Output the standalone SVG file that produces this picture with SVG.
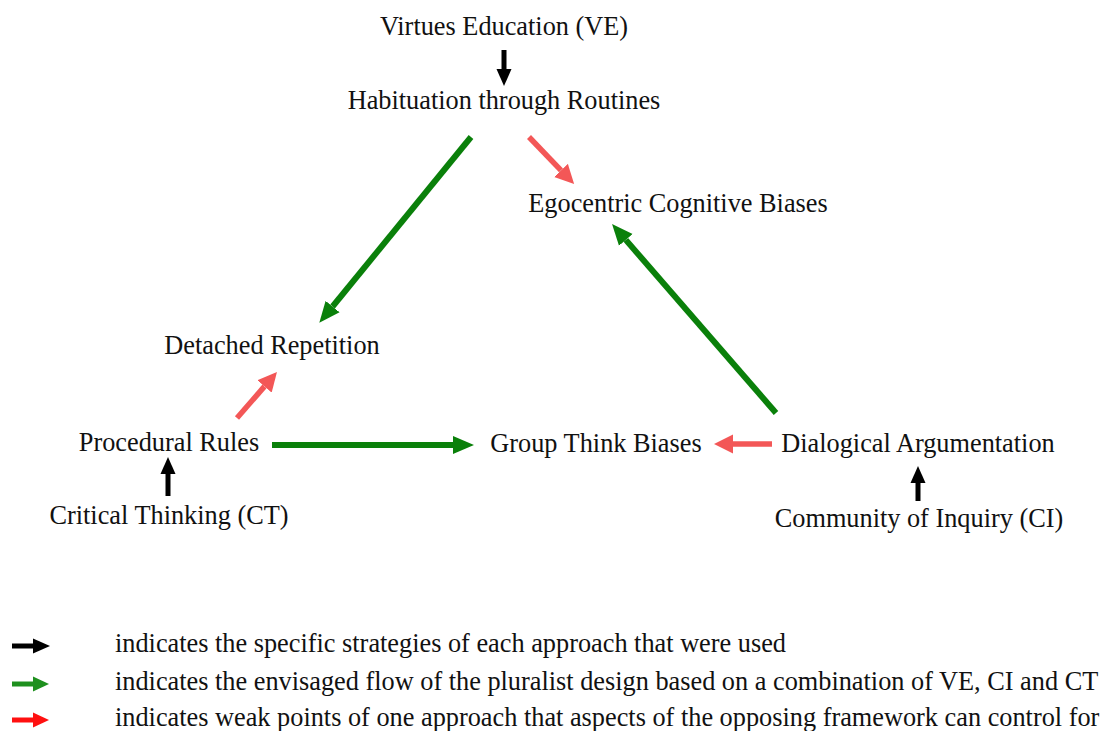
<svg xmlns="http://www.w3.org/2000/svg" width="1106" height="731" viewBox="0 0 1106 731">
<style>
text{font-family:"Liberation Serif","Times New Roman",serif;font-size:26.3px;fill:#111}
.n text{text-anchor:middle}
.g{stroke:#0a800a;stroke-width:6;fill:none}
.r{stroke:#f35757;stroke-width:5.5;fill:none}
.k{stroke:#000;stroke-width:5;fill:none}
.lg{stroke:#1e901e;stroke-width:5;fill:none}
.lr{stroke:#ff1010;stroke-width:5;fill:none}
</style>
<defs>
<marker id="mg" markerUnits="userSpaceOnUse" viewBox="0 -10 22 20" markerWidth="22" markerHeight="20" refX="0" refY="0" orient="auto"><path d="M0,-9 L21,0 L0,9 Z" fill="#0a800a"/></marker>
<marker id="mr" markerUnits="userSpaceOnUse" viewBox="0 -10 22 20" markerWidth="22" markerHeight="20" refX="0" refY="0" orient="auto"><path d="M0,-9.5 L19,0 L0,9.5 Z" fill="#f35757"/></marker>
<marker id="mk" markerUnits="userSpaceOnUse" viewBox="0 -10 22 20" markerWidth="22" markerHeight="20" refX="0" refY="0" orient="auto"><path d="M0,-7.5 L17,0 L0,7.5 Z" fill="#000"/></marker>
<marker id="mlg" markerUnits="userSpaceOnUse" viewBox="0 -10 22 20" markerWidth="22" markerHeight="20" refX="0" refY="0" orient="auto"><path d="M0,-7.5 L16,0 L0,7.5 Z" fill="#1e901e"/></marker>
<marker id="mlr" markerUnits="userSpaceOnUse" viewBox="0 -10 22 20" markerWidth="22" markerHeight="20" refX="0" refY="0" orient="auto"><path d="M0,-7.5 L16,0 L0,7.5 Z" fill="#ff1010"/></marker>
</defs>
<g id="nodes" class="n">
<g id="ve"><text x="504" y="35">Virtues Education (VE)</text></g>
<g id="habituation"><text x="504" y="109">Habituation through Routines</text></g>
<g id="egocentric"><text x="678" y="212">Egocentric Cognitive Biases</text></g>
<g id="detached"><text x="272" y="354">Detached Repetition</text></g>
<g id="procedural"><text x="169" y="451">Procedural Rules</text></g>
<g id="groupthink"><text x="596" y="452">Group Think Biases</text></g>
<g id="dialogical"><text x="918" y="452">Dialogical Argumentation</text></g>
<g id="ct"><text x="169" y="524">Critical Thinking (CT)</text></g>
<g id="ci"><text x="919" y="527">Community of Inquiry (CI)</text></g>
</g>
<g id="connectors">
<line class="k" x1="504" y1="50" x2="504" y2="69" marker-end="url(#mk)"/>
<line class="k" x1="168" y1="496" x2="168" y2="474" marker-end="url(#mk)"/>
<line class="k" x1="918" y1="501" x2="918" y2="483" marker-end="url(#mk)"/>
<line class="g" x1="471" y1="137" x2="332.6" y2="306.5" marker-end="url(#mg)"/>
<line class="g" x1="776" y1="413" x2="625.8" y2="239.9" marker-end="url(#mg)"/>
<line class="g" x1="272" y1="445" x2="453" y2="445" marker-end="url(#mg)"/>
<line class="r" x1="529" y1="137" x2="561" y2="170.4" marker-end="url(#mr)"/>
<line class="r" x1="237" y1="418" x2="264.5" y2="386.4" marker-end="url(#mr)"/>
<line class="r" x1="772" y1="444" x2="733" y2="444" marker-end="url(#mr)"/>
</g>
<g id="legend">
<line class="k" x1="12" y1="646" x2="33" y2="646" marker-end="url(#mk)"/>
<text x="115" y="652">indicates the specific strategies of each approach that were used</text>
<line class="lg" x1="12" y1="684" x2="33" y2="684" marker-end="url(#mlg)"/>
<text x="115" y="690">indicates the envisaged flow of the pluralist design based on a combination of VE, CI and CT</text>
<line class="lr" x1="12" y1="720" x2="33" y2="720" marker-end="url(#mlr)"/>
<text x="115" y="726">indicates weak points of one approach that aspects of the opposing framework can control for</text>
</g>
</svg>
